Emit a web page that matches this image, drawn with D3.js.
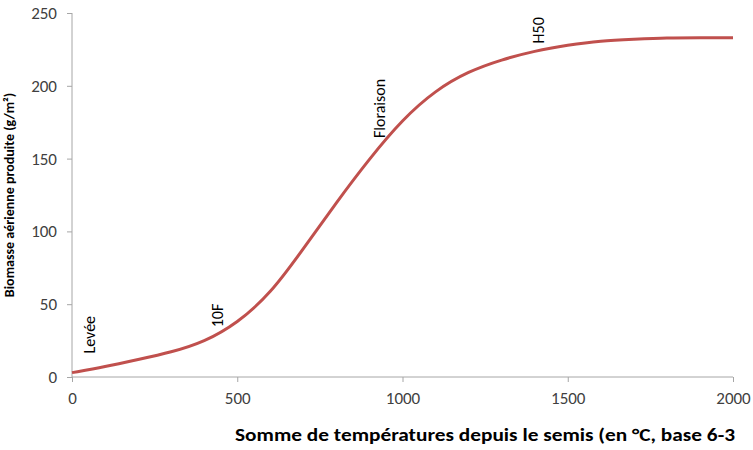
<!DOCTYPE html><html><head><meta charset="utf-8"><script src="https://cdn.jsdelivr.net/npm/d3@7"></script>
<style>body{margin:0;background:#fff}text{font-family:Calibri,Carlito,"Liberation Sans",Arial,sans-serif}</style></head><body>
<svg id="c" width="753" height="450"></svg>
<script>
const sumTemp=[0,100,200,300,400,500,600,700,800,900,1000,1100,1200,1300,1400,1500,1600,1700,1800,1900,2000];
const biomass=[3,7,12,17,24,37,57,88,120,150,177,197,210,218,224,228,231,232,233,233,233];
const stageNames=["Levée","10F","Floraison","H50"];
const stageX=[50,440,930,1410];
const stageY=[12,30,160,225];
const xTicks=[0,500,1000,1500,2000];
const yTicks=[0,50,100,150,200,250];
const svg=d3.select("#c");
const x=d3.scaleLinear().domain([0,2000]).range([72,733]);
const y=d3.scaleLinear().domain([0,250]).range([377,13]);
const gx=svg.append("g").attr("transform","translate(0,377)").call(d3.axisBottom(x).tickValues(xTicks).tickFormat(d3.format("d")).tickSize(5).tickPadding(10));
const gy=svg.append("g").attr("transform","translate(72,0)").call(d3.axisLeft(y).tickValues(yTicks).tickFormat(d3.format("d")).tickSize(5).tickPadding(10));
gy.select(".domain").remove();gy.append("line").attr("y1",13).attr("y2",377).attr("stroke","#a6a6a6");
gx.select(".domain").remove();gx.append("line").attr("x1",72).attr("x2",733).attr("stroke","#a6a6a6");
[gx,gy].forEach(g=>{g.selectAll("line").attr("stroke","#a6a6a6");g.selectAll("text").attr("font-size",17).attr("fill","#404040").style("font-family","Calibri,Carlito,'Liberation Sans',sans-serif");});
svg.append("path").datum(sumTemp.map((d,i)=>[d,biomass[i]])).attr("fill","none").attr("stroke","#c0504d").attr("stroke-width",3)
 .attr("d",d3.line().x(d=>x(d[0])).y(d=>y(d[1])).curve(d3.curveBasis));
stageNames.forEach((n,i)=>{svg.append("text").attr("transform",`translate(${x(stageX[i])+6},${y(stageY[i])-6}) rotate(-90)`).attr("font-size",16).attr("fill","#000").text(n);});
svg.append("text").attr("x",735).attr("y",441).attr("text-anchor","end").attr("font-weight","bold").attr("font-size",17).attr("fill","#000").text("Somme de températures depuis le semis (en °C, base 6-3").attr("textLength",500).attr("lengthAdjust","spacingAndGlyphs");
svg.append("text").attr("transform","translate(14,195) rotate(-90)").attr("text-anchor","middle").attr("font-weight","bold").attr("font-size",14).attr("fill","#000").text("Biomasse aérienne produite (g/m²)");
</script></body></html>
